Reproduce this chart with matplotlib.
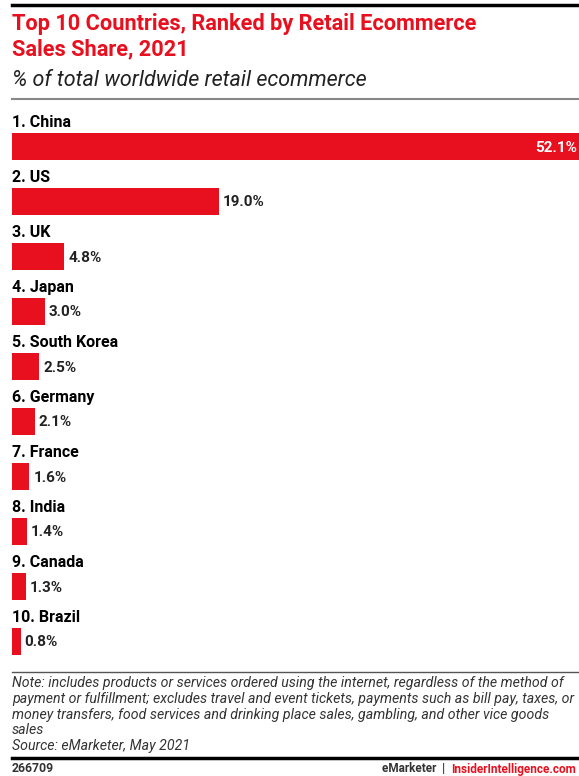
import matplotlib.pyplot as plt
import numpy as np

# datos
paises = ["1. China", "2. US", "3. UK", "4. Japan", "5. South Korea",
          "6. Germany", "7. France", "8. India", "9. Canada", "10. Brazil"]
valores = [52.1, 19.0, 4.8, 3.0, 2.5, 2.1, 1.6, 1.4, 1.3, 0.8]
etiquetas = ["52.1%", "19.0%", "4.8%", "3.0%", "2.5%", "2.1%", "1.6%", "1.4%", "1.3%", "0.8%"]

rojo = "#e8101e"
W, H = 579, 776
fig = plt.figure(figsize=(W / 100, H / 100), dpi=100)
plt.rcParams['font.family'] = ['Roboto', 'DejaVu Sans']

# eje de fondo en pixeles para textos y lineas
bg = fig.add_axes([0, 0, 1, 1])
bg.set_xlim(0, W)
bg.set_ylim(H, 0)
bg.axis("off")

bg.plot([12, W], [5, 5], color="black", lw=2.5)
bg.text(12, 24, "Top 10 Countries, Ranked by Retail Ecommerce", color=rojo,
        fontsize=15.7, fontweight="bold", va="center", ha="left")
bg.text(12, 49, "Sales Share, 2021", color=rojo,
        fontsize=15.7, fontweight="bold", va="center", ha="left")
bg.text(12, 80, "% of total worldwide retail ecommerce", fontsize=15.5,
        style="italic", va="center", ha="left", color="#222222")
bg.plot([12, W], [98.5, 98.5], color="#888888", lw=1.5)

# eje de barras (x en porcentaje, y en pixeles)
ax = fig.add_axes([12 / W, 0, 1 - 12 / W, 1])
ax.set_xlim(0, valores[0])
ax.set_ylim(H, 0)
ax.axis("off")
y = 146.5 + 55 * np.arange(len(valores))
ax.barh(y, valores, height=27, color=rojo, left=0)
for i, (p, v, e) in enumerate(zip(paises, valores, etiquetas)):
    ax.text(0, y[i] - 24, p, fontsize=11.5, fontweight="bold", va="center", ha="left")
    if i == 0:
        ax.text(v - 0.2, y[i] + 1, e, fontsize=11, fontweight="bold", color="white",
                va="center", ha="right")
    else:
        ax.text(v + 0.35, y[i] + 1, e, fontsize=11, fontweight="bold", color="#222222",
                va="center", ha="left")

# notas
bg.plot([12, W], [672, 672], color="#555555", lw=1)
nota = ("Note: includes products or services ordered using the internet, regardless of the method of\n"
        "payment or fulfillment; excludes travel and event tickets, payments such as bill pay, taxes, or\n"
        "money transfers, food services and drinking place sales, gambling, and other vice goods\n"
        "sales\n"
        "Source: eMarketer, May 2021")
bg.text(12, 676, nota, fontsize=10.2, style="italic", va="top", ha="left",
        color="#333333", linespacing=1.16)
bg.plot([12, W], [758, 758], color="black", lw=2.5)
bg.text(12, 769, "266709", fontsize=8.8, fontweight="bold", va="center", ha="left", color="#333333")
t = bg.text(576, 769, "InsiderIntelligence.com", fontsize=8.5, fontweight="bold", va="center",
            ha="right", color=rojo)
bg.annotate("eMarketer  |  ", xy=(0, 0.5), xycoords=t, fontsize=8.5, fontweight="bold",
            va="center", ha="right", color="#333333")

fig.savefig("out.png", dpi=100)
